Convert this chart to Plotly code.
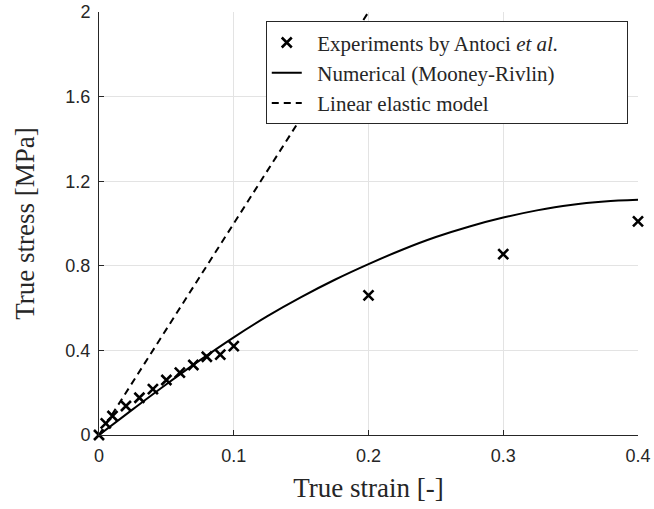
import plotly.graph_objects as go

# Experimental data (Antoci et al.)
exp_strain = [0.0, 0.005, 0.01, 0.02, 0.03, 0.04, 0.05, 0.06, 0.07, 0.08, 0.09, 0.10, 0.20, 0.30, 0.40]
exp_stress = [0.0, 0.055, 0.09, 0.137, 0.176, 0.217, 0.26, 0.295, 0.331, 0.37, 0.38, 0.42, 0.66, 0.855, 1.01]

# Numerical (Mooney-Rivlin)
num_strain = [0.0, 0.025, 0.05, 0.075, 0.10, 0.125, 0.15, 0.175, 0.20, 0.225, 0.25, 0.275, 0.30, 0.325, 0.35, 0.375, 0.40]
num_stress = [0.0, 0.121, 0.240, 0.354, 0.462, 0.562, 0.652, 0.734, 0.808, 0.876, 0.936, 0.986, 1.028, 1.062, 1.088, 1.104, 1.112]

# Linear elastic model (E = 10 MPa)
lin_strain = [0.0, 0.2]
lin_stress = [0.0, 2.0]

x_ticks = [0, 0.1, 0.2, 0.3, 0.4]
x_ticklabels = ["0", "0.1", "0.2", "0.3", "0.4"]
y_ticks = [0, 0.4, 0.8, 1.2, 1.6, 2.0]
y_ticklabels = ["0", "0.4", "0.8", "1.2", "1.6", "2"]

series_names = [
    "Experiments by Antoci <i>et al.</i>",
    "Numerical (Mooney-Rivlin)",
    "Linear elastic model",
]

AX = "#262626"
GRID = "#e3e3e3"
SERIF = "Liberation Serif, Times New Roman, serif"
SANS = "Liberation Sans, Arial, sans-serif"
NB = "\u00a0"
lead = NB * 2
trail = NB * 12

fig = go.Figure()
fig.add_trace(go.Scatter(
    x=exp_strain, y=exp_stress, mode="markers",
    name=lead + series_names[0] + trail,
    marker=dict(symbol="x-thin", size=10, line=dict(width=2.6, color="black"), color="black"),
    cliponaxis=False,
))
fig.add_trace(go.Scatter(
    x=num_strain, y=num_stress, mode="lines", line_shape="spline",
    name=lead + series_names[1],
    line=dict(color="black", width=2),
))
fig.add_trace(go.Scatter(
    x=lin_strain, y=lin_stress, mode="lines",
    name=lead + series_names[2],
    line=dict(color="black", width=2, dash="7px,5px"),
))

fig.update_layout(
    width=654, height=509,
    margin=dict(l=99, r=16, t=12, b=74),
    paper_bgcolor="white", plot_bgcolor="white",
    showlegend=True,
    legend=dict(
        x=0.981, y=0.978, xanchor="right", yanchor="top",
        bgcolor="white", bordercolor=AX, borderwidth=1,
        font=dict(family=SERIF, size=21, color=AX),
        tracegroupgap=0,
    ),
    xaxis=dict(
        range=[0, 0.4], tickvals=x_ticks, ticktext=x_ticklabels,
        showgrid=True, gridcolor=GRID, gridwidth=1,
        showline=True, linecolor=AX, linewidth=1,
        ticks="inside", ticklen=5, tickcolor=AX,
        tickfont=dict(family=SANS, size=18, color=AX),
        ticklabelstandoff=4,
        zeroline=False, automargin=False,
        title=dict(text="True strain [-]", font=dict(family=SERIF, size=27, color=AX), standoff=13),
    ),
    yaxis=dict(
        range=[0, 2], tickvals=y_ticks, ticktext=y_ticklabels,
        showgrid=True, gridcolor=GRID, gridwidth=1,
        showline=True, linecolor=AX, linewidth=1,
        ticks="inside", ticklen=5, tickcolor=AX,
        tickfont=dict(family=SANS, size=18, color=AX),
        ticklabelstandoff=4,
        zeroline=False, automargin=False,
        title=dict(text="True stress [MPa]", font=dict(family=SERIF, size=27, color=AX), standoff=22),
    ),
)

fig.write_html("out.html")
